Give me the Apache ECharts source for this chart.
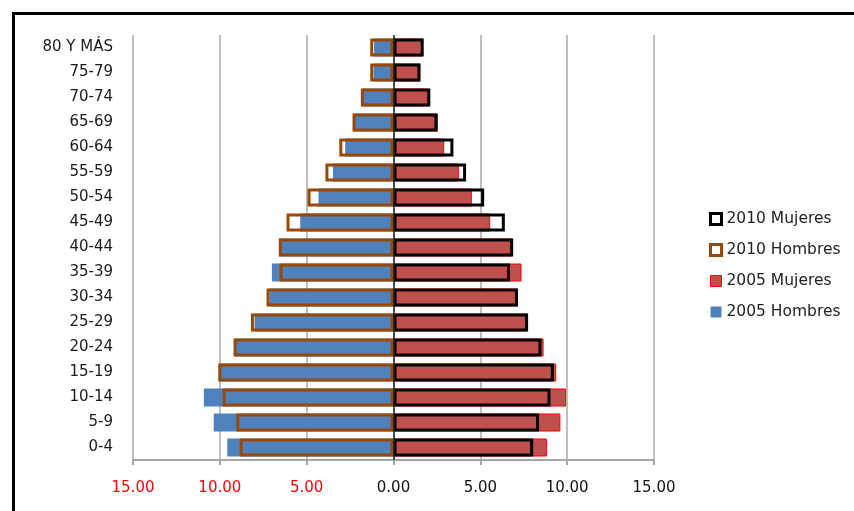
<!DOCTYPE html>
<html>
<head>
<meta charset="utf-8">
<script src="https://cdn.jsdelivr.net/npm/echarts@6/dist/echarts.min.js"></script>
<style>
html,body{margin:0;padding:0;background:#fff;}
#wrap{position:relative;width:854px;height:511px;overflow:hidden;}
#frame{position:absolute;left:12px;top:12px;width:860px;height:520px;border-left:3px solid #000;border-top:3px solid #000;box-sizing:border-box;}
#chart{position:absolute;left:0;top:0;width:854px;height:511px;}
</style>
</head>
<body>
<div id="wrap"><div id="frame"></div><div id="chart"></div></div>
<script>
// Age groups, bottom (0-4) to top (80 Y MÁS)
const categories = ['0-4','5-9','10-14','15-19','20-24','25-29','30-34','35-39','40-44','45-49','50-54','55-59','60-64','65-69','70-74','75-79','80 Y MÁS'];
// Percentages (men drawn on the negative side)
const hombres2005 = [9.57,10.35,10.92,10.05,9.13,8.00,7.14,7.00,6.60,5.37,4.32,3.49,2.78,2.30,1.80,1.15,1.12];
const mujeres2005 = [8.83,9.61,9.94,9.37,8.64,7.71,7.14,7.37,6.83,5.57,4.51,3.76,2.92,2.55,2.03,1.55,1.69];
const hombres2010 = [8.86,9.05,9.84,10.09,9.21,8.21,7.31,6.56,6.60,6.16,4.95,3.92,3.12,2.36,1.88,1.34,1.34];
const mujeres2010 = [8.04,8.38,9.04,9.23,8.52,7.75,7.17,6.71,6.89,6.41,5.22,4.18,3.45,2.53,2.12,1.55,1.74];

const neg = a => a.map(v => -v);
const chart = echarts.init(document.getElementById('chart'));
const FONT = 'DejaVu Sans';
const BW = 18;
chart.setOption({
  animation: false,
  backgroundColor: 'transparent',
  textStyle: {fontFamily: FONT},
  grid: {left: 133, right: 200, top: 35, bottom: 51, containLabel: false},
  legend: {
    orient: 'vertical', left: 709, top: 211, itemGap: 15, padding: 0,
    itemWidth: 11, itemHeight: 11, icon: 'rect',
    textStyle: {fontFamily: FONT, fontSize: 15.5, lineHeight: 16, color: '#222'},
    data: [
      {name: '2010 Mujeres', itemStyle: {color: '#fff', borderColor: '#000', borderWidth: 3}},
      {name: '2010 Hombres', itemStyle: {color: '#fff', borderColor: '#984807', borderWidth: 3}},
      {name: '2005 Mujeres', itemStyle: {color: '#c0504d', borderColor: '#ff0000', borderWidth: 1}},
      {name: '2005 Hombres', itemStyle: {color: '#4f81bd', borderWidth: 0}}
    ]
  },
  xAxis: {
    type: 'value', min: -15, max: 15, interval: 5,
    axisLine: {show: true, onZero: false, lineStyle: {color: '#a6a6a6', width: 2}},
    axisTick: {show: true, length: 5, lineStyle: {color: '#a6a6a6', width: 2}},
    splitLine: {show: true, lineStyle: {color: '#bfbfbf', width: 2}},
    axisLabel: {
      margin: 21, fontSize: 15, fontFamily: FONT,
      formatter: v => Math.abs(v).toFixed(2),
      color: v => (v < 0 ? '#ff0000' : '#111')
    }
  },
  yAxis: {
    type: 'category', data: categories,
    axisLine: {show: false, onZero: false},
    axisTick: {show: false},
    axisLabel: {margin: 20, fontSize: 15, fontFamily: FONT, color: '#1a1a1a'}
  },
  series: [
    {name: '2005 Hombres', type: 'bar', data: neg(hombres2005), barWidth: BW, barGap: '-100%',
     itemStyle: {color: '#4f81bd'}, z: 2},
    {name: '2005 Mujeres', type: 'bar', data: mujeres2005, barWidth: BW, barGap: '-100%',
     itemStyle: {color: '#c0504d', borderColor: '#ff0000', borderWidth: 1}, z: 2,
     markLine: {silent: true, symbol: 'none', label: {show: false},
       lineStyle: {color: '#222', width: 1.5, type: 'solid'}, data: [{xAxis: 0}]}},
    {name: '2010 Hombres', type: 'bar', data: neg(hombres2010), barWidth: BW, barGap: '-100%',
     itemStyle: {color: 'rgba(0,0,0,0)', borderColor: '#984807', borderWidth: 3}, z: 3},
    {name: '2010 Mujeres', type: 'bar', data: mujeres2010, barWidth: BW, barGap: '-100%',
     itemStyle: {color: 'rgba(0,0,0,0)', borderColor: '#000', borderWidth: 3}, z: 3}
  ]
});
</script>
</body>
</html>
